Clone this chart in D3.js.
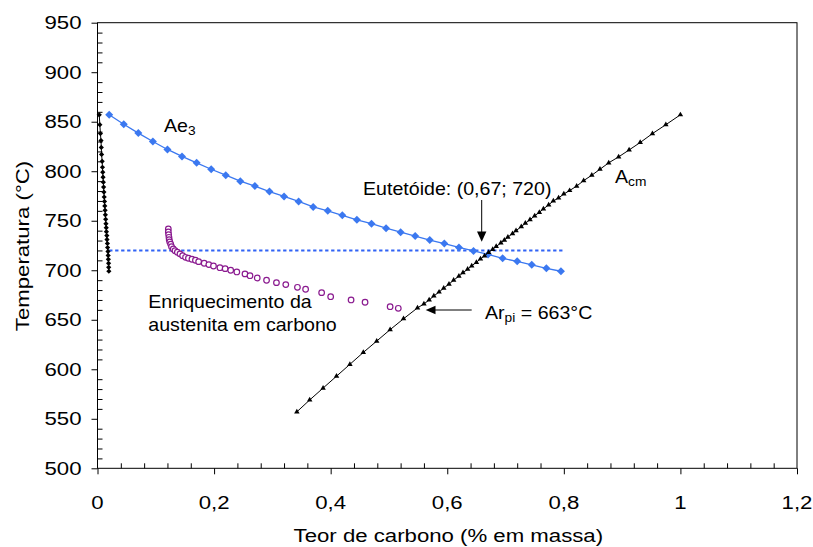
<!DOCTYPE html>
<html>
<head>
<meta charset="utf-8">
<script src="https://cdn.jsdelivr.net/npm/d3@7"></script>
<style>
body { margin: 0; background: #fff; }
text { font-family: "Liberation Sans", Arial, sans-serif; fill: #000; }
</style>
</head>
<body>
<script>
// tick labels
var xTickValues = [0, 0.2, 0.4, 0.6, 0.8, 1, 1.2];
var xTickLabels = ["0", "0,2", "0,4", "0,6", "0,8", "1", "1,2"];
var yTickValues = [500, 550, 600, 650, 700, 750, 800, 850, 900, 950];

// Ae3 curve (blue diamonds)
var ae3Carbon = [0.020, 0.045, 0.070, 0.095, 0.120, 0.145, 0.170, 0.195, 0.220, 0.245, 0.270, 0.295,
    0.320, 0.345, 0.370, 0.395, 0.420, 0.445, 0.470, 0.495, 0.520, 0.545, 0.570, 0.595,
    0.620, 0.645, 0.670, 0.695, 0.720, 0.745, 0.770, 0.795];
var ae3Temp = [857, 847.5, 838.5, 830, 822, 815, 808.5, 802, 796, 790, 785, 779.5,
    774.5, 769.5, 764, 760, 755.5, 751, 747, 742.5, 738.5, 734.5, 730.5, 727,
    723, 719.5, 716, 712, 709, 705.5, 702, 699];

// Acm curve (black triangles)
var acmCarbon = [0.342, 0.364, 0.387, 0.410, 0.433, 0.456, 0.479, 0.502, 0.525, 0.549, 0.560, 0.569,
    0.577, 0.586, 0.594, 0.603, 0.611, 0.620, 0.627, 0.635, 0.642, 0.650, 0.657, 0.664,
    0.671, 0.678, 0.684, 0.692, 0.698, 0.704, 0.712, 0.718, 0.727, 0.734, 0.742, 0.750,
    0.758, 0.765, 0.774, 0.782, 0.791, 0.800, 0.810, 0.822, 0.834, 0.848, 0.862, 0.877,
    0.894, 0.912, 0.931, 0.952, 0.975, 1.000];
var acmTemp = [557, 569, 581, 593, 605, 617, 628.5, 640, 651, 662, 666, 670,
    674, 678, 682, 686, 690, 694, 697.5, 701, 704.5, 708, 711.5, 714.5,
    718, 721, 724, 727.5, 730.5, 733.5, 737, 740, 744, 747.5, 751, 755,
    758.5, 762, 766, 770, 773, 777, 780.5, 785, 790.5, 796, 802, 808.5,
    814.5, 821.5, 829, 838, 847, 857];

// ferrite side curve near 0 %C (black)
var ferCarbon = [0.003, 0.004, 0.005, 0.006, 0.0065, 0.007, 0.008, 0.0085, 0.009, 0.0095, 0.010, 0.0105,
    0.011, 0.0115, 0.012, 0.0125, 0.013, 0.0135, 0.014, 0.0145, 0.015, 0.0153, 0.016, 0.0163,
    0.017, 0.0173, 0.018, 0.0183, 0.0186, 0.019, 0.0192, 0.0195];
var ferTemp = [857, 847, 838, 831, 824, 817, 810, 804, 799, 794, 789, 784,
    779, 774, 769.5, 765, 760.5, 756, 751.5, 747, 743, 739, 735, 731,
    727, 723, 719, 715, 711, 707, 703, 699];

// austenite carbon enrichment (purple open circles)
var enrCarbon = [0.1215, 0.1215, 0.122, 0.1226, 0.123, 0.124, 0.1256, 0.127, 0.130, 0.133, 0.137, 0.1415,
    0.146, 0.151, 0.156, 0.162, 0.168, 0.1735, 0.183, 0.191, 0.199, 0.210, 0.219, 0.2285,
    0.239, 0.253, 0.2616, 0.274, 0.290, 0.307, 0.323, 0.343, 0.357, 0.3845, 0.400, 0.435,
    0.459, 0.502, 0.516];
var enrTemp = [741.7, 738.7, 736, 733.3, 730.9, 728.6, 726.3, 723.8, 721.5, 719.8, 718.2, 716.5,
    714.7, 713.1, 712.1, 711.1, 710.1, 708.7, 707.1, 705.7, 704.3, 702.6, 701.6, 700,
    698.3, 696.3, 694.5, 692.2, 689.9, 687.5, 685.5, 682.8, 680.8, 677.4, 673.3, 670,
    667.7, 663.2, 661.6];

// eutectoid temperature line
var eutCarbon = [0.02, 0.80];
var eutTemp = [720, 720];

var W = 813, H = 547;
var plotLeft = 97.5, plotRight = 797, plotTop = 22.7, plotBottom = 468.3;

var x = d3.scaleLinear().domain([0, 1.2]).range([plotLeft, plotRight]);
var y = d3.scaleLinear().domain([500, 950]).range([plotBottom, plotTop]);

var svg = d3.select("body").append("svg")
    .attr("width", W).attr("height", H);

// text helper, glyphs a bit wider than Arial in the original
function label(tx, ty, sx, anchor, parts, rot) {
    var t = svg.append("text")
        .attr("transform", "translate(" + tx + "," + ty + ")" + (rot ? " rotate(" + rot + ")" : "") + " scale(" + sx + ",1)")
        .attr("text-anchor", anchor)
        .style("font-size", "18.5px");
    var shifted = false;
    parts.forEach(function (p) {
        var s = t.append("tspan").text(p.t);
        if (p.sub) {
            s.style("font-size", "13px").attr("dy", 3);
            shifted = true;
        } else if (shifted) {
            s.attr("dy", -3);
            shifted = false;
        }
    });
    return t;
}

function pts(cx, ty) {
    return cx.map(function (c, i) { return [c, ty[i]]; });
}

var line = d3.line()
    .x(function (d) { return x(d[0]); })
    .y(function (d) { return y(d[1]); });

// frame
svg.append("rect")
    .attr("x", plotLeft).attr("y", plotTop)
    .attr("width", plotRight - plotLeft).attr("height", plotBottom - plotTop)
    .attr("fill", "none").attr("stroke", "#000").attr("stroke-width", 1);

// axes: major ticks outside, minor inside
var yMajor = d3.axisLeft(y).tickValues(yTickValues).tickSize(6).tickSizeOuter(0).tickFormat("");
var yMinor = d3.axisRight(y).tickValues(d3.range(510, 950, 10).filter(function (v) { return v % 50 != 0; }))
    .tickSize(5).tickSizeOuter(0).tickFormat("");
var xMajor = d3.axisBottom(x).tickValues(xTickValues).tickSize(6).tickSizeOuter(0).tickFormat("");
var xMinor = d3.axisTop(x).tickValues(d3.range(1, 30).filter(function (v) { return v % 5 != 0; }).map(function (v) { return v * 0.04; }))
    .tickSize(5).tickSizeOuter(0).tickFormat("");

[[yMajor, "translate(" + plotLeft + ",0)"], [yMinor, "translate(" + plotLeft + ",0)"],
 [xMajor, "translate(0," + plotBottom + ")"], [xMinor, "translate(0," + plotBottom + ")"]].forEach(function (a) {
    var g = svg.append("g").attr("transform", a[1]).call(a[0]);
    g.select(".domain").remove();
    g.selectAll("line").attr("stroke", "#000");
});

// tick labels
yTickValues.forEach(function (v) {
    label(81.5, y(v) + 6.7, 1.2, "end", [{ t: String(v) }]);
});
xTickValues.forEach(function (v, i) {
    label(x(v), 509, 1.2, "middle", [{ t: xTickLabels[i] }]);
});

// axis titles
label(448.3, 541.5, 1.2, "middle", [{ t: "Teor de carbono (% em massa)" }]);
label(28.5, 246, 1.2, "middle", [{ t: "Temperatura (°C)" }], -90);

// eutectoid dotted line
svg.append("path")
    .datum(pts(eutCarbon, eutTemp))
    .attr("d", line)
    .attr("fill", "none").attr("stroke", "#3063f5")
    .attr("stroke-width", 2).attr("stroke-dasharray", "3.3,2.7");

// ferrite curve
svg.append("path").datum(pts(ferCarbon, ferTemp)).attr("d", line)
    .attr("fill", "none").attr("stroke", "#000").attr("stroke-width", 1);
svg.selectAll(".fer").data(pts(ferCarbon, ferTemp)).enter().append("path")
    .attr("class", "fer")
    .attr("transform", function (d) { return "translate(" + x(d[0]) + "," + y(d[1]) + ")"; })
    .attr("d", "M0,-2.6L2.6,0L0,2.6L-2.6,0Z")
    .attr("fill", "#000");

// Ae3
svg.append("path").datum(pts(ae3Carbon, ae3Temp)).attr("d", line)
    .attr("fill", "none").attr("stroke", "#3b78f0").attr("stroke-width", 1.3);
svg.selectAll(".ae3").data(pts(ae3Carbon, ae3Temp)).enter().append("path")
    .attr("class", "ae3")
    .attr("transform", function (d) { return "translate(" + x(d[0]) + "," + y(d[1]) + ")"; })
    .attr("d", "M0,-4L4,0L0,4L-4,0Z")
    .attr("fill", "#3b78f0");

// Acm
svg.append("path").datum(pts(acmCarbon, acmTemp)).attr("d", line)
    .attr("fill", "none").attr("stroke", "#000").attr("stroke-width", 1);
svg.selectAll(".acm").data(pts(acmCarbon, acmTemp)).enter().append("path")
    .attr("class", "acm")
    .attr("transform", function (d) { return "translate(" + x(d[0]) + "," + y(d[1]) + ")"; })
    .attr("d", d3.symbol(d3.symbolTriangle, 13))
    .attr("fill", "#000");

// enrichment circles
svg.selectAll(".enr").data(pts(enrCarbon, enrTemp)).enter().append("circle")
    .attr("class", "enr")
    .attr("cx", function (d) { return x(d[0]); })
    .attr("cy", function (d) { return y(d[1]); })
    .attr("r", 2.8)
    .attr("fill", "#fff").attr("stroke", "#8a1a8f").attr("stroke-width", 1.2);

// annotations
label(164, 131.7, 1.06, "start", [{ t: "Ae" }, { t: "3", sub: true }]);
label(615, 183.3, 1.06, "start", [{ t: "A" }, { t: "cm", sub: true }]);
label(363, 195, 1.06, "start", [{ t: "Eutetóide: (0,67; 720)" }]);
label(148.3, 308.3, 1.06, "start", [{ t: "Enriquecimento da" }]);
label(148.3, 331, 1.06, "start", [{ t: "austenita em carbono" }]);
label(485, 319, 1.06, "start", [{ t: "Ar" }, { t: "pi", sub: true }, { t: " = 663°C" }]);

// arrows
svg.append("line").attr("x1", 481.7).attr("y1", 200).attr("x2", 481.7).attr("y2", 233)
    .attr("stroke", "#000").attr("stroke-width", 1);
svg.append("path").attr("d", "M477,231.5L486.4,231.5L481.7,241.7Z").attr("fill", "#000");

svg.append("line").attr("x1", 471.7).attr("y1", 310).attr("x2", 434).attr("y2", 310)
    .attr("stroke", "#000").attr("stroke-width", 1);
svg.append("path").attr("d", "M435.5,305.8L435.5,314.2L425.7,310Z").attr("fill", "#000");
</script>
</body>
</html>
